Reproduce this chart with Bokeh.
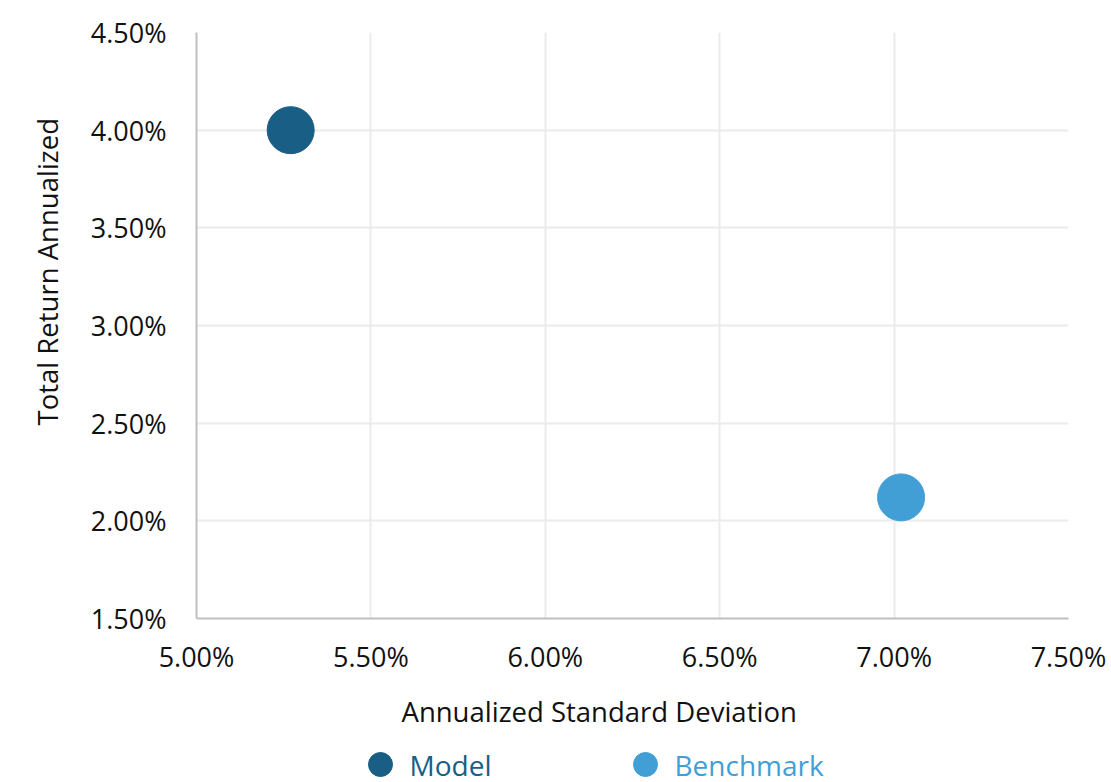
from bokeh.plotting import figure
from bokeh.layouts import column
from bokeh.core.properties import value
from bokeh.models import (ColumnDataSource, NumeralTickFormatter, FixedTicker, Range1d, Title)
from bokeh.embed import file_html
from bokeh.resources import INLINE

series = ["Model", "Benchmark"]
std_dev = [0.0527, 0.0702]
total_return = [0.0400, 0.0212]
colors = ["#185E85", "#419FD5"]
x_ticks = [0.05, 0.055, 0.06, 0.065, 0.07, 0.075]
y_ticks = [0.015, 0.02, 0.025, 0.03, 0.035, 0.04, 0.045]

FONT = "Open Sans"
BL, BR, FW = 196, 40, 872

p = figure(frame_width=FW, frame_height=586, output_backend="svg", toolbar_location=None,
           x_range=Range1d(0.05, 0.075), y_range=Range1d(0.015, 0.045),
           min_border_left=BL, min_border_right=BR, min_border_top=32, min_border_bottom=127)
p.outline_line_color = None
p.background_fill_color = "white"
p.border_fill_color = "white"

for ax, ticks, so in ((p.xaxis[0], x_ticks, 13), (p.yaxis[0], y_ticks, 24)):
    ax.ticker = FixedTicker(ticks=ticks)
    ax.formatter = NumeralTickFormatter(format="0.00%")
    ax.major_tick_line_color = None
    ax.minor_tick_line_color = None
    ax.axis_line_color = "#BFBFBF"
    ax.axis_line_width = 2
    ax.major_label_text_font = FONT
    ax.major_label_text_font_size = "27px"
    ax.major_label_text_color = "#111111"
    ax.major_label_standoff = so

p.xgrid.ticker = FixedTicker(ticks=x_ticks)
p.ygrid.ticker = FixedTicker(ticks=y_ticks)
p.grid.grid_line_color = "#EBEBEB"
p.grid.grid_line_width = 2

src = ColumnDataSource(dict(x=std_dev, y=total_return, c=colors, name=series))
p.scatter("x", "y", source=src, size=47, fill_color="c", line_color="c", marker="circle")

xt = Title(text="Annualized Standard Deviation", text_font=FONT, text_font_size="27.5px",
           text_font_style="normal", text_color="#111111", align="left", offset=205,
           standoff=26)
p.add_layout(xt, "below")
yt = Title(text="Total Return Annualized", text_font=FONT, text_font_size="27.5px",
           text_font_style="normal", text_color="#111111", align="left", offset=193,
           standoff=40, vertical_align="top", text_line_height=1.0)
p.add_layout(yt, "left")

# legend strip below the chart (x range in page pixels across the frame)
LH = 37
lg = figure(frame_width=FW, frame_height=LH, output_backend="svg", toolbar_location=None,
            x_range=Range1d(BL, BL + FW), y_range=Range1d(0, LH),
            min_border_left=BL, min_border_right=BR, min_border_top=0, min_border_bottom=0)
lg.axis.visible = False
lg.grid.visible = False
lg.outline_line_color = None
leg_x = [380, 645]
leg_src = ColumnDataSource(dict(x=leg_x, tx=[v + 29 for v in leg_x], y=[LH - 19] * 2,
                                c=colors, name=series))
lg.scatter("x", "y", source=leg_src, size=24, fill_color="c", line_color="c", marker="circle")
lg.text("tx", "y", text="name", source=leg_src, text_color="c", text_font=value(FONT),
        text_font_size=value("28px"), text_baseline="middle", text_align="left")

layout = column(p, lg, spacing=0)
open("out.html", "w").write(file_html(layout, INLINE))
